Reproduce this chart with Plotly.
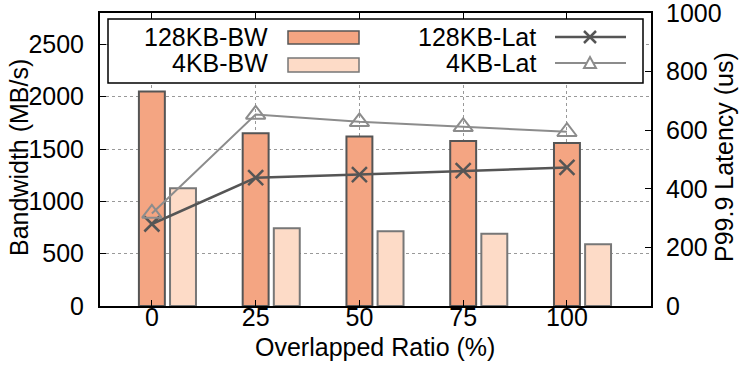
import plotly.graph_objects as go

ratios = ["0", "25", "50", "75", "100"]
bw_128k = [2049, 1651, 1619, 1577, 1558]
bw_4k = [1125, 743, 714, 691, 590]
lat_128k = [280, 438, 449, 462, 473]
lat_4k = [316, 654, 629, 612, 595]

legend_labels = ["128KB-BW", "4KB-BW", "128KB-Lat", "4KB-Lat"]

C128 = "#F4A582"
C4 = "#FDDBC7"
LDARK = "#555555"
LLIGHT = "#8C8C8C"
FONT = "Liberation Sans, Arial, Helvetica, sans-serif"
FS = 25

W, H = 739, 366
L, R, T, B = 100, 88, 13, 60
PW = W - L - R
PH = H - T - B


def px(x):
    return (x - L) / PW


def py(y):
    return (H - B - y) / PH


idx = list(range(len(ratios)))

fig = go.Figure()
fig.add_trace(go.Bar(x=idx, y=bw_128k, width=0.25, offset=-0.125,
                     marker=dict(color=C128, line=dict(color="#555555", width=2)),
                     name=legend_labels[0], showlegend=False))
fig.add_trace(go.Bar(x=idx, y=bw_4k, width=0.25, offset=0.175,
                     marker=dict(color=C4, line=dict(color="#777777", width=2)),
                     name=legend_labels[1], showlegend=False))
fig.add_trace(go.Scatter(x=idx, y=lat_128k, yaxis="y2", mode="lines+markers",
                         line=dict(color=LDARK, width=2.5),
                         marker=dict(symbol="x-thin-open", size=15, line=dict(color=LDARK, width=2.5)),
                         name=legend_labels[2], showlegend=False))
fig.add_trace(go.Scatter(x=idx, y=lat_4k, yaxis="y2", mode="lines+markers",
                         line=dict(color=LLIGHT, width=2),
                         marker=dict(symbol="triangle-up-open", size=17, color=LLIGHT,
                                     line=dict(color=LLIGHT, width=2)),
                         name=legend_labels[3], showlegend=False))

# ---- custom legend, drawn as shapes above the plot ----
def seg(x0, y0, x1, y1, col, w):
    return dict(type="line", xref="paper", yref="paper", x0=px(x0), y0=py(y0), x1=px(x1), y1=py(y1),
                line=dict(color=col, width=w), layer="above")


shapes = [
    dict(type="rect", xref="paper", yref="paper", x0=px(108), x1=px(643), y0=py(83), y1=py(19),
         line=dict(color="black", width=1.5), fillcolor="white", layer="above"),
    dict(type="rect", xref="paper", yref="paper", x0=px(288), x1=px(359), y0=py(44), y1=py(31),
         line=dict(color="#555555", width=1.5), fillcolor=C128, layer="above"),
    dict(type="rect", xref="paper", yref="paper", x0=px(288), x1=px(359), y0=py(72), y1=py(58),
         line=dict(color="#777777", width=1.5), fillcolor=C4, layer="above"),
    seg(555, 37, 626, 37, LDARK, 2.5),
    seg(584, 31, 596, 43, LDARK, 2.5),
    seg(584, 43, 596, 31, LDARK, 2.5),
    seg(555, 63, 626, 63, LLIGHT, 2),
    dict(type="path", xref="paper", yref="paper",
         path="M {} {} L {} {} L {} {} Z".format(px(584), py(68), px(596), py(68), px(590), py(57)),
         line=dict(color=LLIGHT, width=2), fillcolor="white", layer="above"),
]

annotations = []
for lab, xr, yc in [(legend_labels[0], 270, 37), (legend_labels[1], 270, 63),
                    (legend_labels[2], 538, 37), (legend_labels[3], 538, 63)]:
    annotations.append(dict(text=lab, xref="paper", yref="paper", x=px(xr), y=py(yc),
                            xanchor="right", yanchor="middle", showarrow=False,
                            font=dict(family=FONT, size=FS, color="black")))
annotations.append(dict(text="Bandwidth (MB/s)", xref="paper", yref="paper", x=px(19), y=py(158),
                        textangle=-90, xanchor="center", yanchor="middle", showarrow=False,
                        font=dict(family=FONT, size=FS, color="black")))
annotations.append(dict(text="P99.9 Latency (us)", xref="paper", yref="paper", x=px(724), y=py(157),
                        textangle=-90, xanchor="center", yanchor="middle", showarrow=False,
                        font=dict(family=FONT, size=FS, color="black")))
annotations.append(dict(text="Overlapped Ratio (%)", xref="paper", yref="paper", x=px(375), y=py(347),
                        xanchor="center", yanchor="middle", showarrow=False,
                        font=dict(family=FONT, size=FS, color="black")))

fig.update_layout(
    width=W, height=H,
    margin=dict(l=L, r=R, t=T, b=B, pad=0, autoexpand=False),
    paper_bgcolor="white", plot_bgcolor="white",
    barmode="overlay",
    font=dict(family=FONT, size=FS, color="black"),
    shapes=shapes,
    annotations=annotations,
    xaxis=dict(range=[-0.5, 4.81], tickvals=idx, ticktext=ratios, automargin=False,
               showline=True, linecolor="black", linewidth=2, mirror="ticks",
               ticks="inside", ticklen=6, tickcolor="black", ticklabelstandoff=-12,
               showgrid=True, gridcolor="#999999", griddash="dot", gridwidth=1,
               zeroline=False),
    yaxis=dict(range=[0, 2800], tickvals=[0, 500, 1000, 1500, 2000, 2500], automargin=False,
               showline=True, linecolor="black", linewidth=2,
               ticks="inside", ticklen=6, tickcolor="black", ticklabelstandoff=9,
               showgrid=True, gridcolor="#999999", griddash="dot", gridwidth=1,
               zeroline=False),
    yaxis2=dict(range=[0, 1000.5], tickvals=[0, 200, 400, 600, 800, 1000], overlaying="y", side="right",
                automargin=False,
                showline=True, linecolor="black", linewidth=2,
                ticks="inside", ticklen=6, tickcolor="black", ticklabelstandoff=8,
                ticklabeloverflow="allow",
                showgrid=False, zeroline=False),
)

fig.write_html("out.html")
